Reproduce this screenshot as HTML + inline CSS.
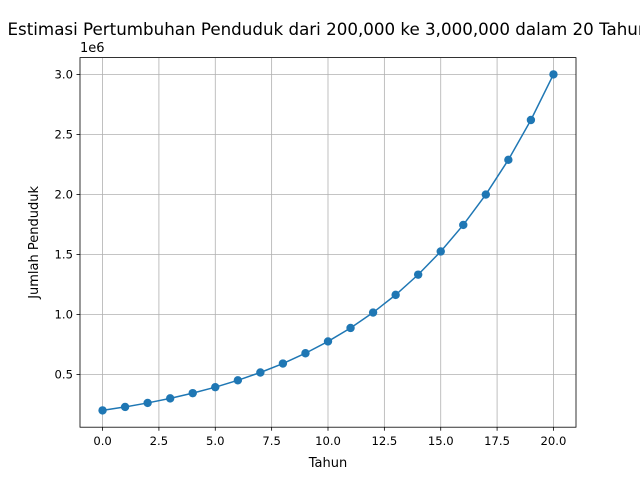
<!DOCTYPE html>
<html><head><meta charset="utf-8"><style>
html,body{margin:0;padding:0;background:#fff;overflow:hidden}
svg{display:block;font-family:"DejaVu Sans","Liberation Sans",sans-serif}
</style></head><body>
<svg id="chart" width="640" height="480" viewBox="0 0 640 480" xmlns="http://www.w3.org/2000/svg">
<rect width="640" height="480" fill="#fff"/>
<text x="328" y="35" font-size="16.7" text-anchor="middle" fill="#000">Estimasi Pertumbuhan Penduduk dari 200,000 ke 3,000,000 dalam 20 Tahun</text>
<g id="grid"></g>
<g id="ticks"></g>
<g id="series"></g>
<rect x="80" y="57.6" width="496" height="369.6" fill="none" stroke="#000" stroke-width="0.8"/>
<text x="80" y="52" font-size="13" fill="#000">1e6</text>
<text x="328" y="467" font-size="13" text-anchor="middle" fill="#000">Tahun</text>
<text transform="translate(38,242.4) rotate(-90)" font-size="13" text-anchor="middle" fill="#000">Jumlah Penduduk</text>
</svg>
<script>
const years = [0,1,2,3,4,5,6,7,8,9,10,11,12,13,14,15,16,17,18,19,20];
const population = [200000,229000,262200,300200,343700,393500,450600,515900,590700,676300,774600,886900,1015500,1162700,1331300,1524300,1745300,1998400,2288100,2619900,3000000];
const xTicks = [0,2.5,5,7.5,10,12.5,15,17.5,20];
const xTickLabels = ["0.0","2.5","5.0","7.5","10.0","12.5","15.0","17.5","20.0"];
const yTicks = [500000,1000000,1500000,2000000,2500000,3000000];
const yTickLabels = ["0.5","1.0","1.5","2.0","2.5","3.0"];

const L=80,R=576,T=57.6,B=427.2;
const xmin=-1,xmax=21;
const ymin=Math.min(...population),ymax=Math.max(...population);
const ylo=ymin-(ymax-ymin)*0.05, yhi=ymax+(ymax-ymin)*0.05;
const xs=v=>L+(v-xmin)/(xmax-xmin)*(R-L);
const ys=v=>B-(v-ylo)/(yhi-ylo)*(B-T);
const NS="http://www.w3.org/2000/svg";
function mk(tag,attrs,parent){const e=document.createElementNS(NS,tag);for(const k in attrs)e.setAttribute(k,attrs[k]);parent.appendChild(e);return e;}
const grid=document.getElementById('grid'),ticks=document.getElementById('ticks'),series=document.getElementById('series');
xTicks.forEach((t,i)=>{
  const x=xs(t);
  const g=mk('line',{x1:x,x2:x,y1:T,y2:B,stroke:'#b0b0b0','stroke-width':0.8},grid);
  
  
  const tk=mk('line',{x1:x,x2:x,y1:B,y2:B+3.5,stroke:'#000','stroke-width':0.8},ticks);
  
  
  const lb=mk('text',{x:x,y:B+18,'font-size':11.6,'text-anchor':'middle',fill:'#000'},ticks);
  lb.textContent=xTickLabels[i];
  
  
});
yTicks.forEach((t,i)=>{
  const y=ys(t);
  const g=mk('line',{x1:L,x2:R,y1:y,y2:y,stroke:'#b0b0b0','stroke-width':0.8},grid);
  
  
  const tk=mk('line',{x1:L-3.5,x2:L,y1:y,y2:y,stroke:'#000','stroke-width':0.8},ticks);
  
  
  const lb=mk('text',{x:L-7,y:y+4.2,'font-size':11.6,'text-anchor':'end',fill:'#000'},ticks);
  lb.textContent=yTickLabels[i];
  
  
});
const pts=years.map((t,i)=>xs(t)+','+ys(population[i])).join(' ');
const line=mk('polyline',{points:pts,fill:'none',stroke:'#1f77b4','stroke-width':1.5},series);


years.forEach((t,i)=>{
  const c=mk('circle',{cx:xs(t),cy:ys(population[i]),r:4.2,fill:'#1f77b4'},series);
  
  
});
</script>
</body></html>
